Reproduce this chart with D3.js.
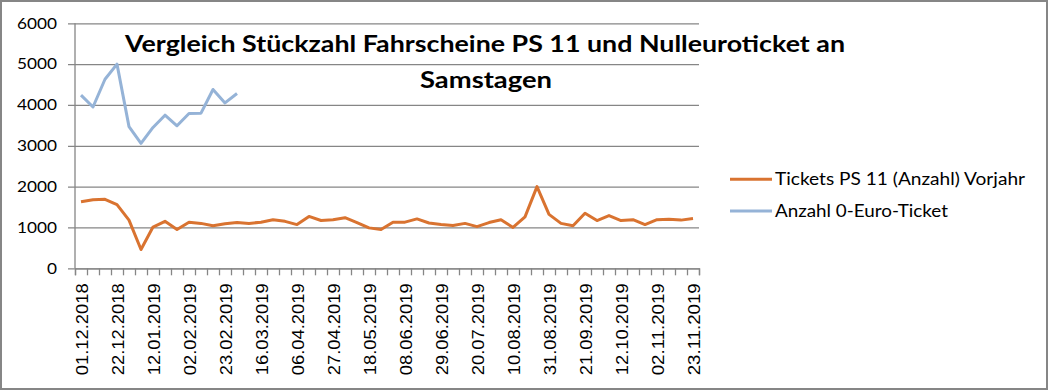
<!DOCTYPE html>
<html>
<head>
<meta charset="utf-8">
<script src="https://cdn.jsdelivr.net/npm/d3@7"></script>
<style>
  html, body { margin: 0; padding: 0; background: #fff; }
  svg { display: block; }
</style>
</head>
<body>
<div id="chart"></div>
<script>
// Samstage (Kategorien)
var dates = [
  "01.12.2018", "08.12.2018", "15.12.2018", "22.12.2018", "29.12.2018",
  "05.01.2019", "12.01.2019", "19.01.2019", "26.01.2019",
  "02.02.2019", "09.02.2019", "16.02.2019", "23.02.2019",
  "02.03.2019", "09.03.2019", "16.03.2019", "23.03.2019", "30.03.2019",
  "06.04.2019", "13.04.2019", "20.04.2019", "27.04.2019",
  "04.05.2019", "11.05.2019", "18.05.2019", "25.05.2019",
  "01.06.2019", "08.06.2019", "15.06.2019", "22.06.2019", "29.06.2019",
  "06.07.2019", "13.07.2019", "20.07.2019", "27.07.2019",
  "03.08.2019", "10.08.2019", "17.08.2019", "24.08.2019", "31.08.2019",
  "07.09.2019", "14.09.2019", "21.09.2019", "28.09.2019",
  "05.10.2019", "12.10.2019", "19.10.2019", "26.10.2019",
  "02.11.2019", "09.11.2019", "16.11.2019", "23.11.2019"
];

// Tickets PS 11 (Anzahl) Vorjahr
var ticketsVorjahr = [
  1630, 1680, 1690, 1560, 1180, 460, 1010, 1150, 950, 1130,
  1100, 1040, 1090, 1120, 1100, 1130, 1190, 1150, 1070, 1270,
  1170, 1190, 1240, 1120, 990, 950, 1130, 1130, 1210, 1110,
  1070, 1050, 1100, 1020, 1120, 1190, 1000, 1260, 2000, 1320,
  1100, 1040, 1350, 1170, 1290, 1170, 1190, 1070, 1190, 1200,
  1180, 1220
];

// Anzahl 0-Euro-Ticket (nur die ersten Wochen)
var nullEuro = [
  4240, 3950, 4630, 5000, 3470, 3060, 3450, 3750, 3490, 3790,
  3800, 4380, 4050, 4280
];

var yTicks = [0, 1000, 2000, 3000, 4000, 5000, 6000];

var series = [
  { name: "Tickets PS 11 (Anzahl) Vorjahr", values: ticketsVorjahr, color: "#D97330" },
  { name: "Anzahl 0-Euro-Ticket", values: nullEuro, color: "#95B3D7" }
];

var width = 1049, height = 391;
var grey = "#868686";
var plot = { left: 75, right: 699, top: 23.3, bottom: 268.3 };

var svg = d3.select("#chart").append("svg")
  .attr("width", width)
  .attr("height", height);

svg.append("rect")
  .attr("x", 1).attr("y", 1)
  .attr("width", width - 3).attr("height", height - 3)
  .attr("fill", "#fff")
  .attr("stroke", grey)
  .attr("stroke-width", 2);

var x = d3.scaleBand()
  .domain(d3.range(dates.length))
  .range([plot.left, plot.right])
  .padding(0);

var xEdge = d3.scaleLinear()
  .domain([0, dates.length])
  .range([plot.left, plot.right]);

var y = d3.scaleLinear()
  .domain([0, 6000])
  .range([plot.bottom, plot.top]);

// Gitterlinien + y-Beschriftung
var yAxis = svg.append("g")
  .attr("transform", "translate(" + plot.right + ",0)")
  .call(d3.axisLeft(y)
    .tickValues(yTicks)
    .tickFormat(d3.format("d"))
    .tickSize(plot.right - plot.left + 7)
    .tickPadding(11));
yAxis.select(".domain").remove();
yAxis.selectAll(".tick line").attr("stroke", grey).attr("stroke-width", 1.3);
yAxis.selectAll(".tick text")
  .attr("fill", "#000")
  .style("font-family", "Lato, 'Open Sans', sans-serif")
  .style("font-size", "15px")
  .attr("textLength", function(d) { return String(d).length * 10; })
  .attr("lengthAdjust", "spacingAndGlyphs");

// linke Achse
svg.append("line")
  .attr("x1", plot.left).attr("x2", plot.left)
  .attr("y1", plot.top).attr("y2", plot.bottom)
  .attr("stroke", grey).attr("stroke-width", 1.3);

// x-Achse mit Strichen zwischen den Kategorien
var xTicks = svg.append("g")
  .attr("transform", "translate(0," + plot.bottom + ")")
  .call(d3.axisBottom(xEdge).tickValues(d3.range(dates.length + 1)).tickSize(7).tickFormat(""));
xTicks.select(".domain").attr("stroke", grey).attr("stroke-width", 1.3);
xTicks.selectAll(".tick line").attr("stroke", grey).attr("stroke-width", 1.3);

// Datumsbeschriftung, jede dritte Woche
var xLabels = svg.append("g")
  .attr("transform", "translate(0," + (plot.bottom + 15) + ")")
  .call(d3.axisBottom(x)
    .tickValues(d3.range(0, dates.length, 3))
    .tickSize(0)
    .tickFormat(function(i) { return dates[i]; }));
xLabels.select(".domain").remove();
xLabels.selectAll(".tick text")
  .attr("fill", "#000")
  .style("font-family", "'Liberation Sans', Arial, sans-serif")
  .style("font-size", "17px")
  .attr("transform", "rotate(-90)")
  .attr("text-anchor", "end")
  .attr("x", 0)
  .attr("y", 1)
  .attr("dy", "0.36em")
  .attr("textLength", 92)
  .attr("lengthAdjust", "spacingAndGlyphs");

// Linien
var line = d3.line()
  .defined(function(d) { return d != null; })
  .x(function(d, i) { return x(i) + x.bandwidth() / 2; })
  .y(function(d) { return y(d); });

svg.selectAll("path.serie")
  .data(series)
  .enter().append("path")
  .attr("class", "serie")
  .attr("fill", "none")
  .attr("stroke", function(s) { return s.color; })
  .attr("stroke-width", 3)
  .attr("stroke-linejoin", "round")
  .attr("d", function(s) { return line(s.values); });

// Titel
var title = svg.append("g")
  .style("font-family", "Lato, 'Open Sans', sans-serif")
  .style("font-weight", "bold")
  .style("font-size", "22px")
  .attr("fill", "#000");
title.append("text")
  .attr("x", 125).attr("y", 52)
  .attr("textLength", 720)
  .attr("lengthAdjust", "spacingAndGlyphs")
  .text("Vergleich Stückzahl Fahrscheine PS 11 und Nulleuroticket an");
title.append("text")
  .attr("x", 420).attr("y", 88)
  .attr("textLength", 132)
  .attr("lengthAdjust", "spacingAndGlyphs")
  .text("Samstagen");

// Legende
var legendW = [250, 173];
var legend = svg.selectAll("g.legend")
  .data(series)
  .enter().append("g")
  .attr("class", "legend")
  .attr("transform", function(d, i) { return "translate(730," + (179.3 + i * 31.7) + ")"; });
legend.append("line")
  .attr("x1", 0).attr("x2", 42)
  .attr("stroke", function(d) { return d.color; })
  .attr("stroke-width", 3);
legend.append("text")
  .attr("x", 45).attr("y", 6)
  .style("font-family", "Lato, 'Open Sans', sans-serif")
  .style("font-size", "17px")
  .attr("fill", "#000")
  .attr("textLength", function(d, i) { return legendW[i]; })
  .attr("lengthAdjust", "spacingAndGlyphs")
  .text(function(d) { return d.name; });
</script>
</body>
</html>
